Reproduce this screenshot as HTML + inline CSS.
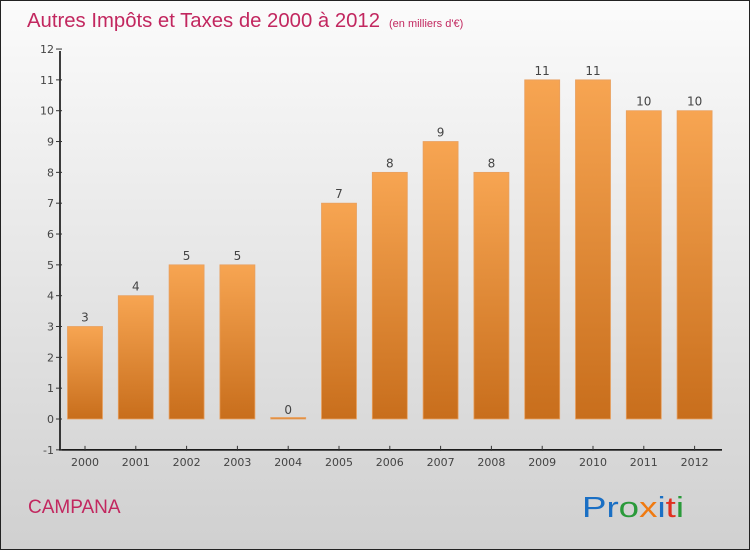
<!DOCTYPE html>
<html><head><meta charset="utf-8"><style>
body{margin:0}
svg{display:block;font-family:"DejaVu Sans","Liberation Sans",sans-serif}
</style></head><body>
<svg id="chart" width="750" height="550" viewBox="0 0 750 550">
<defs>
<linearGradient id="bg" x1="0" y1="0" x2="0" y2="1"><stop offset="0" stop-color="#fbfbfb"/><stop offset="1" stop-color="#d0d0d0"/></linearGradient>
<linearGradient id="bar" x1="0" y1="0" x2="0" y2="1"><stop offset="0" stop-color="#f7a552"/><stop offset="1" stop-color="#c86e1c"/></linearGradient>
</defs>
<rect x="0.5" y="0.5" width="749" height="549" fill="url(#bg)" stroke="#222"/>
<text x="27" y="27" font-size="20" font-family="Liberation Sans,sans-serif" fill="#c2275f" textLength="353" lengthAdjust="spacingAndGlyphs">Autres Impôts et Taxes de 2000 à 2012</text>
<text x="389" y="27" font-size="11" font-family="Liberation Sans,sans-serif" fill="#c2275f">(en milliers d'€)</text>
<g id="plot"></g>
<text x="28" y="513" font-size="19" font-family="Liberation Sans,sans-serif" fill="#c2275f">CAMPANA</text>
<text x="582" y="517" font-size="29" font-family="Liberation Sans,sans-serif" textLength="102" lengthAdjust="spacingAndGlyphs"><tspan fill="#1a6fc4">Pr</tspan><tspan fill="#2a9a3a">o</tspan><tspan fill="#f07a10">x</tspan><tspan fill="#1a6fc4">i</tspan><tspan fill="#e03020">t</tspan><tspan fill="#2a9a3a">i</tspan></text>
</svg>
<script>
const categories=["2000","2001","2002","2003","2004","2005","2006","2007","2008","2009","2010","2011","2012"];
const values=[3,4,5,5,0,7,8,9,8,11,11,10,10];
const yTicks=[-1,0,1,2,3,4,5,6,7,8,9,10,11,12];
const NS="http://www.w3.org/2000/svg";
const g=document.getElementById('plot');
const y=v=>419-(v)*30.83;
const x=i=>85+i*50.8;
function el(t,a,txt){const e=document.createElementNS(NS,t);for(const k in a)e.setAttribute(k,a[k]);if(txt!==undefined)e.textContent=txt;g.appendChild(e);return e;}
let e=el('line',{x1:60,y1:y(-1),x2:60,y2:y(12)+2,stroke:'#000','stroke-width':1.5});


e=el('line',{x1:59,y1:y(-1),x2:722,y2:y(-1),stroke:'#000','stroke-width':1.5});


yTicks.forEach(t=>{
 const tk=el('line',{x1:56,x2:62,y1:y(t),y2:y(t),stroke:'#333'});
 
 
 const l=el('text',{x:54,y:y(t)+4,'text-anchor':'end','font-size':11,fill:'#444'},String(t));
 
 
});
categories.forEach((c,i)=>{
 const cx=x(i),v=values[i];
 const tk=el('line',{x1:cx,x2:cx,y1:y(-1)-4,y2:y(-1)+1,stroke:'#333'});
 
 
 const l=el('text',{x:cx,y:466,'text-anchor':'middle','font-size':11,fill:'#444'},c);
 
 
 const h=Math.max(y(0)-y(v),1.5);
 const b=el('rect',{x:cx-17.5,y:y(0)-h,width:35,height:h,fill:'url(#bar)',stroke:'#e8a060','stroke-width':0.8});
 
 
 const vl=el('text',{x:cx,y:y(v)-5,'text-anchor':'middle','font-size':12,fill:'#444'},String(v));
 
 
});
</script>
</body></html>
